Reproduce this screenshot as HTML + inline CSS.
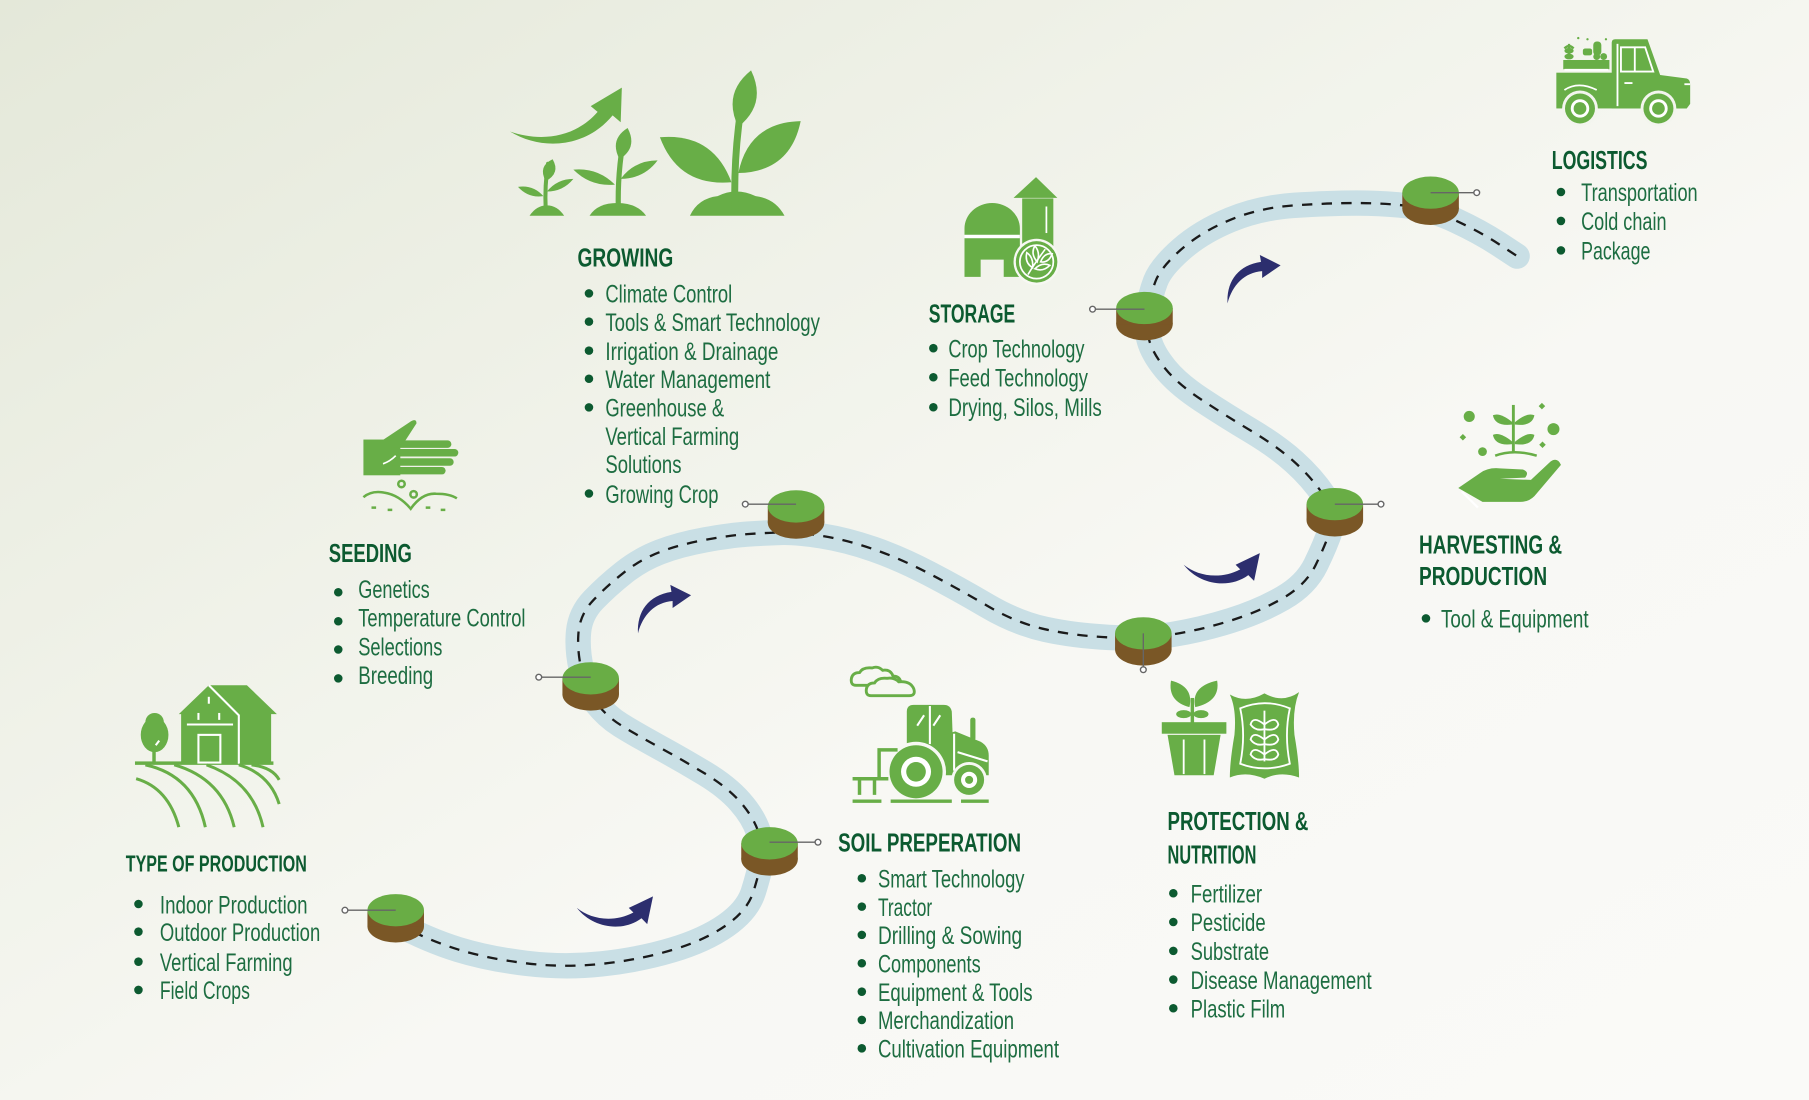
<!DOCTYPE html>
<html><head><meta charset="utf-8"><style>
html,body{margin:0;padding:0;width:1809px;height:1100px;overflow:hidden;background:#f6f7f2}
svg{display:block}
.t{font-family:"Liberation Sans Narrow","Liberation Sans",sans-serif;font-weight:bold;font-size:22.5px;fill:#0c5a30}
.i{font-family:"Liberation Sans Narrow","Liberation Sans",sans-serif;font-size:22px;fill:#1d6d41}
</style></head><body>
<svg width="1809" height="1100" viewBox="0 0 1568 953.5" preserveAspectRatio="none" xmlns="http://www.w3.org/2000/svg">
<defs>
<linearGradient id="bg" x1="0" y1="0" x2="1" y2="1">
<stop offset="0" stop-color="#e4e8d9"/><stop offset="0.35" stop-color="#f0f2e9"/><stop offset="0.6" stop-color="#f8f8f4"/><stop offset="1" stop-color="#fafaf8"/>
</linearGradient>
<g id="nd"><ellipse cx="0" cy="14" rx="24.5" ry="14" fill="#7a5726"/><rect x="-24.5" y="0" width="49" height="14" fill="#7a5726"/><ellipse cx="0" cy="0" rx="24.5" ry="14" fill="#69ad45"/></g>
</defs>
<rect width="1568" height="953.5" fill="url(#bg)"/>

<!-- road -->
<path d="M343,800 Q371,815 397,823 Q423,831 456,835 Q489,839 521.5,835.5 Q554,832 582.5,823.5 Q611,815 629.5,802 Q648,789 653,773 Q658,757 660,746 Q662,735 657.5,721.5 Q653,708 641.5,695 Q630,682 611,670.5 Q592,659 571,647.5 Q550,636 538,628.5 Q526,621 517,609.5 Q508,598 504,580.5 Q500,563 501.5,547.5 Q503,532 514.5,520 Q526,508 540.5,496.5 Q555,485 572,478.5 Q589,472 611,468 Q633,464 647.5,463 Q662,462 676,461.5 Q690,461 712,464.5 Q734,468 757,476 Q780,484 805,497 Q830,510 855.5,525 Q881,540 906,545.5 Q931,551 961,552.5 Q991,554 1016,550 Q1041,546 1066.5,538 Q1092,530 1112,518.5 Q1132,507 1140.5,489.5 Q1149,472 1153.5,458.5 Q1158,445 1147.5,429.5 Q1137,414 1122,400.5 Q1107,387 1084.5,373.5 Q1062,360 1041.5,346.5 Q1021,333 1010,319.5 Q999,306 996,294.5 Q993,283 995,269.5 Q997,256 1001.5,244 Q1006,232 1023.5,216.5 Q1041,201 1066.5,190.5 Q1092,180 1122,178 Q1152,176 1176,176 Q1200,176 1220,178.5 Q1240,181 1261.5,191 Q1283,201 1299,211.5 L1315,222" fill="none" stroke="#c9dfe5" stroke-width="22" stroke-linecap="round" stroke-linejoin="round"/>
<path d="M343,800 Q371,815 397,823 Q423,831 456,835 Q489,839 521.5,835.5 Q554,832 582.5,823.5 Q611,815 629.5,802 Q648,789 653,773 Q658,757 660,746 Q662,735 657.5,721.5 Q653,708 641.5,695 Q630,682 611,670.5 Q592,659 571,647.5 Q550,636 538,628.5 Q526,621 517,609.5 Q508,598 504,580.5 Q500,563 501.5,547.5 Q503,532 514.5,520 Q526,508 540.5,496.5 Q555,485 572,478.5 Q589,472 611,468 Q633,464 647.5,463 Q662,462 676,461.5 Q690,461 712,464.5 Q734,468 757,476 Q780,484 805,497 Q830,510 855.5,525 Q881,540 906,545.5 Q931,551 961,552.5 Q991,554 1016,550 Q1041,546 1066.5,538 Q1092,530 1112,518.5 Q1132,507 1140.5,489.5 Q1149,472 1153.5,458.5 Q1158,445 1147.5,429.5 Q1137,414 1122,400.5 Q1107,387 1084.5,373.5 Q1062,360 1041.5,346.5 Q1021,333 1010,319.5 Q999,306 996,294.5 Q993,283 995,269.5 Q997,256 1001.5,244 Q1006,232 1023.5,216.5 Q1041,201 1066.5,190.5 Q1092,180 1122,178 Q1152,176 1176,176 Q1200,176 1220,178.5 Q1240,181 1261.5,191 Q1283,201 1299,211.5 L1315,222" fill="none" stroke="#1a1a1a" stroke-width="2" stroke-dasharray="9 8"/>

<!-- arrows -->
<g fill="#2c2e6e">
<path d="M553,549 C552,530 562,516 582,513 L581,507 L599,516 L583,527 L583,521 C568,522 557,533 553,549 Z"/>
<path transform="translate(511,-286)" d="M553,549 C552,530 562,516 582,513 L581,507 L599,516 L583,527 L583,521 C568,522 557,533 553,549 Z"/>
<path d="M500,787 C512,797 532,800 549,791 L545,787 L566,777 L561,801 L556,796 C540,808 514,805 500,787 Z"/>
<path transform="translate(526,-297.5)" d="M500,787 C512,797 532,800 549,791 L545,787 L566,777 L561,801 L556,796 C540,808 514,805 500,787 Z"/>
</g>

<!-- nodes -->
<use href="#nd" x="343" y="789"/>
<use href="#nd" x="667" y="731"/>
<use href="#nd" x="512" y="588"/>
<use href="#nd" x="690" y="439"/>
<use href="#nd" x="991" y="549"/>
<use href="#nd" x="1157" y="437"/>
<use href="#nd" x="992" y="267"/>
<use href="#nd" x="1240" y="167"/>
<g stroke="#666" stroke-width="1.2" fill="#fff">
<line x1="343" y1="789" x2="301.5" y2="789"/><circle cx="299" cy="789" r="2.5"/>
<line x1="667" y1="730" x2="706.5" y2="730"/><circle cx="709" cy="730" r="2.5"/>
<line x1="512" y1="587" x2="469.5" y2="587"/><circle cx="467" cy="587" r="2.5"/>
<line x1="690" y1="437" x2="648.5" y2="437"/><circle cx="646" cy="437" r="2.5"/>
<line x1="991" y1="549" x2="991" y2="578"/><circle cx="991" cy="580.5" r="2.5"/>
<line x1="1157" y1="437" x2="1194.5" y2="437"/><circle cx="1197" cy="437" r="2.5"/>
<line x1="992" y1="268" x2="949.5" y2="268"/><circle cx="947" cy="268" r="2.5"/>
<line x1="1240" y1="167" x2="1277.5" y2="167"/><circle cx="1280" cy="167" r="2.5"/>
</g>

<!-- GROWING icon -->
<g fill="#68ae47">
<path d="M442,114 C468,123 498,120 518,97 L512,92 L539,76 L538,106 L531,100 C508,128 470,131 442,114 Z"/>
<path d="M572,119 Q588,162 634,158 Q618,115 572,119 Z"/>
<path d="M694,105 Q685,149 640,150 Q649,106 694,105 Z"/>
<path d="M651,61 Q626,81 640,110 Q665,90 651,61 Z"/>
<path d="M598,187 Q605,172 622,170 Q638,162 655,170 Q672,172 680,187 Z"/>
<path d="M497,147 Q512,162 533,160 Q518,145 497,147 Z"/>
<path d="M570,139 Q558,155 538,155 Q550,139 570,139 Z"/>
<path d="M544,111 Q528,121 537,138 Q553,128 544,111 Z"/>
<path d="M511,187 Q518,176 535,176 Q552,176 560,187 Z"/>
<path d="M449,162 Q458,172 471,170 Q462,160 449,162 Z"/>
<path d="M497,155 Q488,166 474,166 Q483,155 497,155 Z"/>
<path d="M479,138 Q466,144 473,157 Q486,150 479,138 Z"/>
<path d="M459,187 Q465,178 474,178 Q483,178 489,187 Z"/>
</g>
<g fill="none" stroke="#68ae47" stroke-linecap="round">
<path d="M637,182 Q636,140 641,103" stroke-width="6"/>
<path d="M536,182 Q535,150 541,118" stroke-width="4.5"/>
<path d="M473,182 Q472,160 475,142" stroke-width="3.5"/>
</g>

<!-- SEEDING icon -->
<g fill="#68ae47">
<rect x="315" y="381" width="32" height="31"/>
<path d="M328,384 L355,366 Q361,362 361,367 L350,384 Z"/>
</g>
<g stroke="#68ae47" stroke-width="6.5" stroke-linecap="round">
<line x1="340" y1="385" x2="388" y2="385"/>
<line x1="340" y1="392.5" x2="394" y2="392.5"/>
<line x1="340" y1="400.5" x2="390" y2="400.5"/>
<line x1="340" y1="408" x2="383" y2="408"/>
</g>
<path d="M332,402 Q338,400 343,395" stroke="#fff" stroke-width="1.5" fill="none"/>
<g fill="none" stroke="#68ae47" stroke-width="2.2">
<path d="M315,431 Q322,425 333,427 Q346,429 356,441 Q366,427 378,428 Q390,428 396,432"/>
<circle cx="348" cy="419.5" r="2.8"/><circle cx="358.5" cy="428.5" r="2.8"/>
<path d="M322,440 h4 M336,442 h4 M369,440 h4 M382,442 h4"/>
</g>

<!-- FARM icon -->
<g fill="#68ae47">
<polygon points="155,619 181,594 214,594 240,619 235,619 235,662 157,662 157,619"/>
<ellipse cx="134" cy="637" rx="12" ry="15"/>
<circle cx="134" cy="626" r="8"/>
<rect x="132" y="645" width="3" height="17"/>
<rect x="117" y="660" width="120" height="3"/>
</g>
<g stroke="#fff" stroke-width="1.8" fill="none">
<path d="M181,594 L207,620 L207,662"/>
<rect x="172" y="637" width="19" height="24"/>
<line x1="162" y1="628" x2="202" y2="628"/>
<line x1="181" y1="604" x2="181" y2="610"/>
<line x1="172" y1="618" x2="172" y2="624"/><line x1="190" y1="618" x2="190" y2="624"/>
<line x1="135" y1="646" x2="138" y2="642"/>
</g>
<g fill="none" stroke="#68ae47" stroke-width="2.6">
<path d="M118,675 Q146,683 155,717"/>
<path d="M126,663 Q168,672 178,717"/>
<path d="M151,663 Q193,675 203,717"/>
<path d="M179,663 Q219,677 228,717"/>
<path d="M207,663 Q234,671 242,697"/>
<path d="M218,663 Q236,665 242,676"/>
</g>

<!-- TRACTOR icon -->
<g fill="none" stroke="#68ae47" stroke-width="2.5">
<path d="M742,594 Q737,594 738,588 Q739,583 745,583 Q748,578 756,579 Q761,577 765,581 Q772,580 774,586 Q780,586 781,592 L781,594 Z"/>
<path d="M755,603 Q750,603 751,597 Q752,592 758,592 Q761,587 769,588 Q775,587 779,591 Q789,590 792,597 Q794,603 788,603 Z" fill="#f6f7f1"/>
</g>
<g fill="#68ae47">
<path d="M786,645 L786,617 Q786,611 792,611 L818,611 Q824,611 825,617 L826,645 Z"/>
<path d="M776,650 L828,634 L850,643 Q857,647 857,655 L857,672 L776,672 Z"/>
<rect x="841" y="622" width="4.5" height="20" rx="2"/>
</g>
<g stroke="#fff" stroke-width="1.8">
<line x1="795" y1="629" x2="801" y2="620"/><line x1="809" y1="629" x2="815" y2="620"/>
<line x1="806" y1="612" x2="806" y2="645"/><line x1="827" y1="636" x2="827" y2="668"/>
<line x1="830" y1="652" x2="856" y2="660"/>
</g>
<circle cx="794" cy="669" r="26" fill="#f7f8f3"/>
<circle cx="840" cy="676" r="15.5" fill="#f7f8f3"/>
<g fill="#68ae47">
<circle cx="794" cy="669" r="23"/><circle cx="840" cy="676" r="13"/>
</g>
<circle cx="794" cy="669" r="13" fill="#fff"/><circle cx="794" cy="669" r="8.5" fill="#68ae47"/>
<circle cx="840" cy="676" r="7" fill="#fff"/><circle cx="840" cy="676" r="3.5" fill="#68ae47"/>
<g fill="none" stroke="#68ae47" stroke-width="3">
<path d="M778,650 L762,650 L762,675"/>
<path d="M739,675 L770,675 M745,675 L745,689 M758,675 L758,689"/>
<path d="M739,694.5 h25 M772,694.5 h53 M833,694.5 h24"/>
</g>

<!-- STORAGE icon -->
<g fill="#68ae47">
<path d="M836,240 L836,198 A24,22 0 0 1 884,198 L884,240 L870,240 L870,225 L850,225 L850,240 Z"/>
<rect x="886" y="172" width="27" height="56"/>
<polygon points="878.5,171.5 898,153.5 916.5,171.5"/>
</g>
<rect x="836" y="203.5" width="48" height="3" fill="#fff"/>
<line x1="907" y1="179" x2="907" y2="202" stroke="#fff" stroke-width="1.5"/>
<circle cx="898.5" cy="227" r="20" fill="#f7f8f3"/>
<circle cx="898.5" cy="227" r="18" fill="#68ae47"/>
<circle cx="898.5" cy="227" r="14.5" fill="none" stroke="#fff" stroke-width="1.5"/>
<g fill="none" stroke="#fff" stroke-width="1.4">
<path d="M891,238 Q897,228 906,216"/>
<path d="M895,232 Q888,228 890,219 Q896,223 895,232 Z"/>
<path d="M899,227 Q893,220 897,213 Q902,219 899,227 Z"/>
<path d="M897,233 Q904,236 910,230 Q903,227 897,233 Z"/>
<path d="M902,227 Q909,228 912,220 Q905,219 902,227 Z"/>
</g>

<!-- PROTECTION icon -->
<g fill="#68ae47">
<rect x="1032" y="605" width="3" height="22"/>
<path d="M1015,590 Q1012,608 1031,613 Q1035,595 1015,590 Z"/>
<path d="M1055,590 Q1058,608 1036,613 Q1032,595 1055,590 Z"/>
<ellipse cx="1026" cy="619" rx="6.5" ry="3.5"/><ellipse cx="1041" cy="619" rx="6.5" ry="3.5"/>
<rect x="1007" y="626" width="56" height="10"/>
<polygon points="1012,637 1058,637 1052,672 1018,672"/>
<path d="M1066,602 Q1080,610 1096,601 Q1112,610 1126,600 Q1120,615 1122,637 Q1126,660 1126,674 Q1110,668 1096,675 Q1080,668 1066,674 Q1066,660 1070,637 Q1072,615 1066,602 Z"/>
</g>
<g stroke="#fff" stroke-width="1.6" fill="none">
<line x1="1026" y1="641" x2="1026" y2="671"/><line x1="1044" y1="641" x2="1044" y2="671"/>
<path d="M1075,614 Q1096,605 1118,614 Q1113,637 1118,662 Q1096,670 1075,662 Q1080,637 1075,614 Z"/>
<line x1="1096" y1="616" x2="1096" y2="660"/>
<path d="M1096,628 Q1086,620 1084,628 Q1088,634 1096,632 Q1106,634 1108,628 Q1106,620 1096,628"/>
<path d="M1096,641 Q1086,633 1084,641 Q1088,647 1096,645 Q1106,647 1108,641 Q1106,633 1096,641"/>
<path d="M1096,654 Q1086,646 1084,654 Q1088,660 1096,658 Q1106,660 1108,654 Q1106,646 1096,654"/>
</g>

<!-- HARVEST icon -->
<g fill="#68ae47">
<rect x="1310.5" y="351" width="2.5" height="42"/>
<path d="M1311,366 Q1300,357 1294,360 Q1296,370 1311,368 Z"/>
<path d="M1313,366 Q1324,357 1330,360 Q1328,370 1313,368 Z"/>
<path d="M1311,383 Q1300,374 1294,377 Q1296,387 1311,385 Z"/>
<path d="M1313,383 Q1324,374 1330,377 Q1328,387 1313,385 Z"/>
<circle cx="1273.5" cy="361" r="4.8"/><circle cx="1346.5" cy="372" r="5.2"/><circle cx="1285" cy="391.5" r="3.8"/>
<rect x="1266" y="377" width="4" height="4" transform="rotate(45 1268 379)"/>
<rect x="1334.5" y="350" width="4" height="4" transform="rotate(45 1336.5 352)"/>
<rect x="1335" y="383.5" width="4" height="4" transform="rotate(45 1337 385.5)"/>
<path d="M1264,423 L1283,410 Q1290,405 1300,406 L1320,407 Q1326,409 1322,414 L1300,415 L1327,416 L1344,400 Q1350,396 1353,403 L1330,430 Q1325,435 1318,435 L1285,435 Z"/>
</g>
<path d="M1296,395 Q1312,389 1332,395" fill="none" stroke="#68ae47" stroke-width="2.2"/>
<line x1="1267" y1="426" x2="1281" y2="440" stroke="#fff" stroke-width="2"/>

<!-- TRUCK icon -->
<g fill="#68ae47">
<rect x="1349" y="63" width="50" height="31"/>
<rect x="1355" y="52" width="40" height="8"/>
<path d="M1397,94 L1397,37 Q1397,34 1400,34 L1428,34 L1439,65 L1462,68 Q1465,69 1465,73 L1465,90 L1462,94 Z"/>
<path d="M1360,51 L1360,38 M1356,42 Q1360,38 1364,42" stroke="#68ae47" stroke-width="2" fill="none"/>
<ellipse cx="1360" cy="44" rx="4" ry="2.5"/><ellipse cx="1360" cy="49" rx="4" ry="2.5"/>
<rect x="1372" y="42" width="8" height="6" rx="2"/><rect x="1381" y="36" width="7" height="12" rx="3"/>
<circle cx="1384" cy="49" r="3"/><circle cx="1390" cy="49" r="3"/>
<circle cx="1368" cy="33" r="1"/><circle cx="1376" cy="34" r="1"/><circle cx="1392" cy="34" r="1"/>
</g>
<g stroke="#fff" stroke-width="1.6" fill="none">
<path d="M1405,62 L1405,41 L1426,41 L1433,62 Z"/>
<line x1="1417" y1="41" x2="1417" y2="62"/>
<line x1="1402" y1="38" x2="1402" y2="92"/>
<line x1="1408" y1="72" x2="1415" y2="72"/>
<path d="M1356,78 Q1368,70 1384,78"/>
<line x1="1356" y1="60.5" x2="1394" y2="60.5"/>
<line x1="1460" y1="73" x2="1465" y2="73"/>
</g>
<circle cx="1369.5" cy="94" r="15.5" fill="#f3f5ee"/><circle cx="1437.5" cy="94" r="15.5" fill="#f3f5ee"/>
<circle cx="1369.5" cy="94" r="13" fill="#68ae47"/><circle cx="1437.5" cy="94" r="13" fill="#68ae47"/>
<circle cx="1369.5" cy="94" r="8" fill="#fff"/><circle cx="1437.5" cy="94" r="8" fill="#fff"/>
<circle cx="1369.5" cy="94" r="5.5" fill="#68ae47"/><circle cx="1437.5" cy="94" r="5.5" fill="#68ae47"/>

<!-- TEXT -->
<g fill="#0c5a30">
<circle cx="510.5" cy="254.3" r="3.7"/><circle cx="510.5" cy="278.8" r="3.7"/><circle cx="510.5" cy="303.9" r="3.7"/><circle cx="510.5" cy="328.3" r="3.7"/><circle cx="510.5" cy="353.1" r="3.7"/><circle cx="510.5" cy="427.8" r="3.7"/>
<circle cx="293.2" cy="513.4" r="3.7"/><circle cx="293.2" cy="538.5" r="3.7"/><circle cx="293.2" cy="563" r="3.7"/><circle cx="293.2" cy="588" r="3.7"/>
<circle cx="120" cy="783.6" r="3.7"/><circle cx="120" cy="807.6" r="3.7"/><circle cx="120" cy="833.6" r="3.7"/><circle cx="120" cy="858.1" r="3.7"/>
<circle cx="747" cy="761.3" r="3.7"/><circle cx="747" cy="785.9" r="3.7"/><circle cx="747" cy="810.4" r="3.7"/><circle cx="747" cy="835" r="3.7"/><circle cx="747" cy="859.6" r="3.7"/><circle cx="747" cy="884.1" r="3.7"/><circle cx="747" cy="908.7" r="3.7"/>
<circle cx="809" cy="301.8" r="3.7"/><circle cx="809" cy="327" r="3.7"/><circle cx="809" cy="353" r="3.7"/>
<circle cx="1017" cy="774.3" r="3.7"/><circle cx="1017" cy="799.2" r="3.7"/><circle cx="1017" cy="824.2" r="3.7"/><circle cx="1017" cy="849.1" r="3.7"/><circle cx="1017" cy="874" r="3.7"/>
<circle cx="1236" cy="536" r="3.7"/>
<circle cx="1353" cy="166.4" r="3.7"/><circle cx="1353" cy="191.5" r="3.7"/><circle cx="1353" cy="217" r="3.7"/>
</g>

<text class="t" x="500.6" y="231" textLength="83" lengthAdjust="spacingAndGlyphs">GROWING</text>
<text class="i" x="524.7" y="262.3" textLength="110" lengthAdjust="spacingAndGlyphs">Climate Control</text>
<text class="i" x="524.7" y="286.8" textLength="186" lengthAdjust="spacingAndGlyphs">Tools &amp; Smart Technology</text>
<text class="i" x="524.7" y="311.9" textLength="150" lengthAdjust="spacingAndGlyphs">Irrigation &amp; Drainage</text>
<text class="i" x="524.7" y="336.3" textLength="143" lengthAdjust="spacingAndGlyphs">Water Management</text>
<text class="i" x="524.7" y="361.1" textLength="103" lengthAdjust="spacingAndGlyphs">Greenhouse &amp;</text>
<text class="i" x="524.7" y="385.6" textLength="116" lengthAdjust="spacingAndGlyphs">Vertical Farming</text>
<text class="i" x="524.7" y="410.2" textLength="66" lengthAdjust="spacingAndGlyphs">Solutions</text>
<text class="i" x="524.7" y="435.8" textLength="98" lengthAdjust="spacingAndGlyphs">Growing Crop</text>

<text class="t" x="285" y="487.2" textLength="72" lengthAdjust="spacingAndGlyphs">SEEDING</text>
<text class="i" x="310.5" y="518.4" textLength="62" lengthAdjust="spacingAndGlyphs">Genetics</text>
<text class="i" x="310.5" y="543.2" textLength="145" lengthAdjust="spacingAndGlyphs">Temperature Control</text>
<text class="i" x="310.5" y="568" textLength="73" lengthAdjust="spacingAndGlyphs">Selections</text>
<text class="i" x="310.5" y="593" textLength="65" lengthAdjust="spacingAndGlyphs">Breeding</text>

<text class="t" x="109" y="755.5" style="font-size:20px" textLength="157" lengthAdjust="spacingAndGlyphs">TYPE OF PRODUCTION</text>
<text class="i" x="138.6" y="791.7" textLength="128" lengthAdjust="spacingAndGlyphs">Indoor Production</text>
<text class="i" x="138.6" y="815.7" textLength="139" lengthAdjust="spacingAndGlyphs">Outdoor Production</text>
<text class="i" x="138.6" y="841.7" textLength="115" lengthAdjust="spacingAndGlyphs">Vertical Farming</text>
<text class="i" x="138.6" y="866.1" textLength="78" lengthAdjust="spacingAndGlyphs">Field Crops</text>

<text class="t" x="726.5" y="738" textLength="158.5" lengthAdjust="spacingAndGlyphs">SOIL PREPERATION</text>
<text class="i" x="761" y="769.3" textLength="127" lengthAdjust="spacingAndGlyphs">Smart Technology</text>
<text class="i" x="761" y="793.9" textLength="47" lengthAdjust="spacingAndGlyphs">Tractor</text>
<text class="i" x="761" y="818.4" textLength="125" lengthAdjust="spacingAndGlyphs">Drilling &amp; Sowing</text>
<text class="i" x="761" y="843" textLength="89" lengthAdjust="spacingAndGlyphs">Components</text>
<text class="i" x="761" y="867.6" textLength="134" lengthAdjust="spacingAndGlyphs">Equipment &amp; Tools</text>
<text class="i" x="761" y="892.1" textLength="118" lengthAdjust="spacingAndGlyphs">Merchandization</text>
<text class="i" x="761" y="916.7" textLength="157" lengthAdjust="spacingAndGlyphs">Cultivation Equipment</text>

<text class="t" x="805" y="279.4" textLength="75" lengthAdjust="spacingAndGlyphs">STORAGE</text>
<text class="i" x="822" y="309.8" textLength="118" lengthAdjust="spacingAndGlyphs">Crop Technology</text>
<text class="i" x="822" y="335" textLength="121" lengthAdjust="spacingAndGlyphs">Feed Technology</text>
<text class="i" x="822" y="360.5" textLength="133" lengthAdjust="spacingAndGlyphs">Drying, Silos, Mills</text>

<text class="t" x="1012" y="719.4" textLength="122" lengthAdjust="spacingAndGlyphs">PROTECTION &amp;</text>
<text class="t" x="1012" y="748.3" textLength="77" lengthAdjust="spacingAndGlyphs">NUTRITION</text>
<text class="i" x="1032" y="782.3" textLength="62" lengthAdjust="spacingAndGlyphs">Fertilizer</text>
<text class="i" x="1032" y="807.2" textLength="65" lengthAdjust="spacingAndGlyphs">Pesticide</text>
<text class="i" x="1032" y="832.2" textLength="68" lengthAdjust="spacingAndGlyphs">Substrate</text>
<text class="i" x="1032" y="857.1" textLength="157" lengthAdjust="spacingAndGlyphs">Disease Management</text>
<text class="i" x="1032" y="882" textLength="82" lengthAdjust="spacingAndGlyphs">Plastic Film</text>

<text class="t" x="1230" y="479.8" textLength="124" lengthAdjust="spacingAndGlyphs">HARVESTING &amp;</text>
<text class="t" x="1230" y="507" textLength="111" lengthAdjust="spacingAndGlyphs">PRODUCTION</text>
<text class="i" x="1249" y="544" textLength="128" lengthAdjust="spacingAndGlyphs">Tool &amp; Equipment</text>

<text class="t" x="1345" y="146.3" textLength="83" lengthAdjust="spacingAndGlyphs">LOGISTICS</text>
<text class="i" x="1370.5" y="174.4" textLength="101" lengthAdjust="spacingAndGlyphs">Transportation</text>
<text class="i" x="1370.5" y="199.5" textLength="74" lengthAdjust="spacingAndGlyphs">Cold chain</text>
<text class="i" x="1370.5" y="225" textLength="60" lengthAdjust="spacingAndGlyphs">Package</text>
</svg>
</body></html>
